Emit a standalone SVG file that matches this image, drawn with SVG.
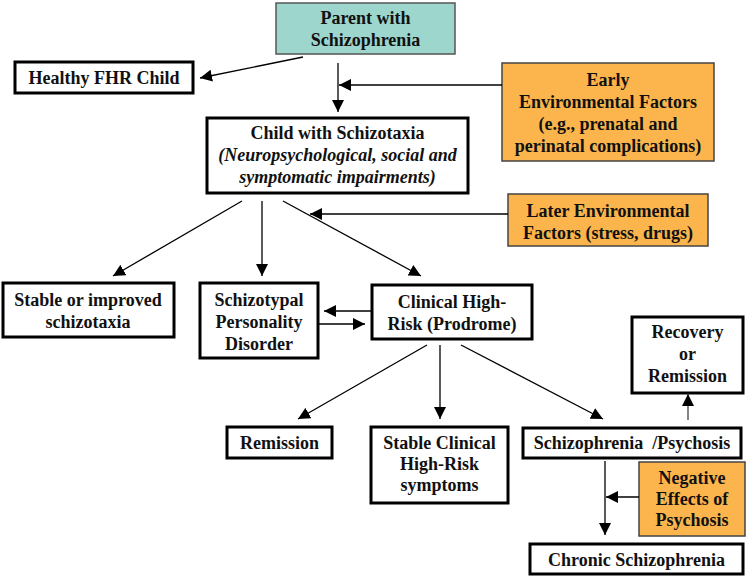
<svg xmlns="http://www.w3.org/2000/svg" width="752" height="577" viewBox="0 0 752 577">
<defs>
<marker id="ah" markerUnits="userSpaceOnUse" markerWidth="12" markerHeight="12" viewBox="0 0 10 10" refX="10" refY="5" orient="auto">
<path d="M0,0 L10,5 L0,10 z" fill="#000"/>
</marker>
<style>
.box{fill:#fff;stroke:#000;stroke-width:3}
.teal{fill:#9dd6cd;stroke:#555;stroke-width:1.5}
.orange{fill:#fbb54c;stroke:#444;stroke-width:1.5}
text{font-family:"Liberation Serif","Times New Roman","DejaVu Serif",serif;font-weight:bold;font-size:18px;fill:#111;text-anchor:middle}
.it{font-style:italic}
.conn line{stroke:#000;stroke-width:1.3;marker-end:url(#ah)}
</style>
</defs>
<rect width="752" height="577" fill="#fff"/>
<g font-family="Liberation Serif, serif">
<g id="parent"><rect class="teal" x="276" y="3" width="179" height="51"/><text x="365.5" y="24">Parent with</text><text x="365.5" y="46">Schizophrenia</text></g>
<g id="healthy"><rect class="box" x="15" y="62" width="178" height="31"/><text x="104" y="84">Healthy FHR Child</text></g>
<g id="early"><rect class="orange" x="502" y="63" width="212" height="98"/><text x="608" y="86">Early</text><text x="608" y="108">Environmental Factors</text><text x="608" y="130">(e.g., prenatal and</text><text x="608" y="152">perinatal complications)</text></g>
<g id="child"><rect class="box" x="207" y="118" width="261" height="75"/><text x="337.5" y="139">Child with Schizotaxia</text><text class="it" x="337.5" y="161">(Neuropsychological, social and</text><text class="it" x="337.5" y="183">symptomatic impairments)</text></g>
<g id="later"><rect class="orange" x="508" y="194" width="200" height="52"/><text x="608" y="217">Later Environmental</text><text x="608" y="239">Factors (stress, drugs)</text></g>
<g id="stable"><rect class="box" x="3" y="283" width="171" height="54"/><text x="88" y="306">Stable or improved</text><text x="88" y="328">schizotaxia</text></g>
<g id="schizotypal"><rect class="box" x="200" y="283" width="118" height="75"/><text x="259" y="306">Schizotypal</text><text x="259" y="328">Personality</text><text x="259" y="350">Disorder</text></g>
<g id="clinical"><rect class="box" x="372" y="285" width="160" height="54"/><text x="452" y="308">Clinical High-</text><text x="452" y="330">Risk (Prodrome)</text></g>
<g id="remission"><rect class="box" x="227" y="427" width="105" height="31"/><text x="279.5" y="449">Remission</text></g>
<g id="stableClinical"><rect class="box" x="371" y="427" width="137" height="76"/><text x="439.5" y="449">Stable Clinical</text><text x="439.5" y="470">High-Risk</text><text x="439.5" y="491">symptoms</text></g>
<g id="psychosis"><rect class="box" x="523" y="428" width="218" height="30"/><text x="632" y="449">Schizophrenia&#160; /Psychosis</text></g>
<g id="recovery"><rect class="box" x="632" y="317" width="111" height="76"/><text x="687.5" y="338">Recovery</text><text x="687.5" y="360">or</text><text x="687.5" y="382">Remission</text></g>
<g id="negative"><rect class="orange" x="639" y="462" width="106" height="74"/><text x="692" y="484">Negative</text><text x="692" y="505">Effects of</text><text x="692" y="526">Psychosis</text></g>
<g id="chronic"><rect class="box" x="530" y="544" width="213" height="30"/><text x="636.5" y="566">Chronic Schizophrenia</text></g>
</g>
<g id="connectors" class="conn">
<line x1="303" y1="57" x2="200" y2="78"/>
<line x1="338" y1="63" x2="338" y2="112"/>
<line x1="502" y1="85" x2="339" y2="85"/>
<line x1="242" y1="201" x2="113" y2="276"/>
<line x1="262" y1="201" x2="262" y2="276"/>
<line x1="283" y1="201" x2="421" y2="276"/>
<line x1="508" y1="214" x2="310" y2="214"/>
<line x1="372" y1="311" x2="324" y2="311"/>
<line x1="318" y1="324" x2="365" y2="324"/>
<line x1="427" y1="345" x2="298" y2="419"/>
<line x1="440" y1="345" x2="440" y2="419"/>
<line x1="461" y1="345" x2="603" y2="419"/>
<line x1="688" y1="420" x2="688" y2="394" style="stroke:#444"/>
<line x1="605" y1="461" x2="605" y2="535"/>
<line x1="639" y1="497" x2="606" y2="497"/>
</g>
</svg>
